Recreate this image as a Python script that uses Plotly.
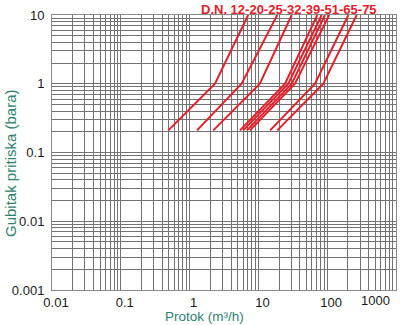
import plotly.graph_objects as go

# Pressure-loss curves for water meters (log-log), one polyline per size:
# start point, break point at 1 bar, end point at the top of the chart.
flow_start = [0.49, 1.28, 2.21, 5.4, 6.0, 6.8, 7.55, 14.8, 18.8]
flow_knee = [2.34, 5.7, 10.5, 24.4, 27.2, 30.5, 34.0, 66.5, 87.9]
flow_end = [7.1, 18.8, 30.5, 71.8, 83.2, 92.9, 107.0, 203.0, 268.0]
loss_start = 0.21
loss_knee = 1.0
loss_end = 10.0

x_ticks = [0.01, 0.1, 1, 10, 100, 1000]
x_tick_text = ["0.01", "0.1", "1", "10", "100", "1000"]
y_ticks = [0.001, 0.01, 0.1, 1, 10]
y_tick_text = ["0.001", "0.01", "0.1", "1", "10"]

title_text = "D.N. 12-20-25-32-39-51-65-75"
x_title = "Protok (m³/h)"
y_title = "Gubitak pritiska (bara)"

RED = "#e3202a"
TEAL = "#2e8270"
GRID = "#727272"
FONT = "Liberation Sans, Arial, sans-serif"

TOP, BOTTOM = 15, 35          # plot margins in px
PLOT_H = 325 - TOP - BOTTOM


def minor_values(lo_exp, hi_exp):
    vals = []
    for e in range(lo_exp, hi_exp):
        for k in range(2, 10):
            vals.append(k * 10 ** e)
    return vals


def paper_y(px_from_top):
    return (325 - BOTTOM - px_from_top) / PLOT_H


fig = go.Figure()
for qs, qk, qe in zip(flow_start, flow_knee, flow_end):
    fig.add_trace(go.Scatter(
        x=[qs, qk, qe], y=[loss_start, loss_knee, loss_end],
        mode="lines", line=dict(color=RED, width=2),
        showlegend=False, hoverinfo="skip",
    ))

axis_common = dict(
    type="log", showline=True, linecolor="#8a8a8a", linewidth=1, mirror=True,
    showgrid=True, gridcolor=GRID, gridwidth=1, zeroline=False, ticks="",
    tickfont=dict(family=FONT, size=13, color="#1a1a1a"),
)

fig.update_xaxes(
    range=[-2, 3], tickmode="array", tickvals=x_ticks,
    ticktext=x_tick_text[:-1] + [""],
    minor=dict(tickmode="array", tickvals=minor_values(-2, 3),
               showgrid=True, gridcolor=GRID, gridwidth=1),
    ticklabelshift=4, ticklabelstandoff=0,
    **axis_common,
)
fig.update_yaxes(
    range=[-3, 1], tickmode="array", tickvals=y_ticks, ticktext=y_tick_text,
    minor=dict(tickmode="array", tickvals=minor_values(-3, 1),
               showgrid=True, gridcolor=GRID, gridwidth=1),
    ticklabelstandoff=4,
    **axis_common,
)

annotations = [
    # last x tick label, kept inside the page
    dict(text=x_tick_text[-1], x=3, xref="x", y=0, yref="paper",
         xanchor="right", yanchor="top", xshift=-4, yshift=-1, showarrow=False,
         font=dict(family=FONT, size=13, color="#1a1a1a")),
    dict(text=x_title, x=0.442, xref="paper", y=paper_y(316), yref="paper",
         xanchor="center", yanchor="middle", showarrow=False,
         font=dict(family=FONT, size=13.5, color=TEAL)),
    dict(text=y_title, x=-0.122, xref="paper", y=paper_y(163), yref="paper",
         xanchor="center", yanchor="middle", textangle=-90, showarrow=False,
         font=dict(family=FONT, size=15, color=TEAL)),
    dict(text="<b>" + title_text + "</b>", x=0.690, xref="paper",
         y=paper_y(9), yref="paper", xanchor="center", yanchor="middle",
         showarrow=False, font=dict(family=FONT, size=13, color=RED)),
]

fig.update_layout(
    width=400, height=325,
    margin=dict(l=52, r=4, t=TOP, b=BOTTOM),
    paper_bgcolor="white", plot_bgcolor="white",
    annotations=annotations,
)

fig.write_html("out.html")
